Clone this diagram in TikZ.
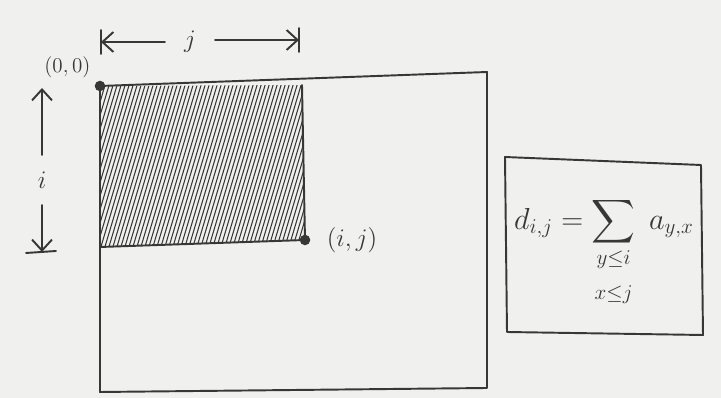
\documentclass[tikz,border=0pt]{standalone}
\usepackage{amsmath,amssymb,mathtools}
\usepackage{tikz}
\usetikzlibrary{arrows.meta,positioning,calc}
\usepackage{xcolor}
\definecolor{paper}{RGB}{240,240,239}
\definecolor{pencil}{RGB}{55,55,55}
\tikzset{
  sketch/.style={draw=pencil,line width=1.1pt,line cap=round,line join=round},
  hatch/.style={draw=pencil,line width=.6pt},
  corner/.style={circle,fill=pencil,inner sep=0pt,minimum size=6pt},
  dimarrow/.style={sketch,-{Straight Barb[length=2.2mm,width=4mm]}},
  tick/.style={sketch},
  lbl/.style={text=pencil,inner sep=1pt,font=\Large},
}
\begin{document}
\begin{tikzpicture}[x=0.02cm,y=-0.02cm]
  \useasboundingbox[fill=paper] (0,0) rectangle (721,398);
  % whole matrix
  \coordinate (tl) at (100,86);
  \coordinate (tr) at (487,72);
  \coordinate (br) at (487,388);
  \coordinate (bl) at (100,392);
  % prefix block
  \coordinate (sb) at (100,247);
  \coordinate (se) at (305,240);
  \coordinate (st) at (302,85);
  \begin{scope}
    \clip (tl) -- (st) -- (se) -- (sb) -- cycle;
    \foreach \x in {40,44,...,320}
      {\draw[hatch] (\x,250) -- (\x+50,82);}
  \end{scope}
  \draw[sketch] (tl) -- (tr) -- (br) -- (bl) -- cycle;
  \draw[sketch] (sb) -- (se) -- (st);
  \node[corner] (origin) at (tl) {};
  \node[corner] (cell) at (se) {};
  \node[lbl,font=\large,above left=1pt and 2pt of origin] (zero) {$(0,0)$};
  \node[lbl,right=8pt of cell] (ij) {$(i,j)$};
  % width j
  \coordinate (jl) at (101,42);
  \coordinate (jr) at (299,40);
  \coordinate (jls) at (165,42);
  \coordinate (jrs) at (215,40);
  \node[lbl] (jlab) at (190,42) {$j$};
  \draw[tick] (101,30) -- (101,54);
  \draw[tick] (299,28) -- (299,52);
  \draw[dimarrow] (jls) -- (jl);
  \draw[dimarrow] (jrs) -- (jr);
  % height i
  \coordinate (it) at (42,88);
  \coordinate (ib) at (42,252);
  \coordinate (its) at (42,155);
  \coordinate (ibs) at (42,205);
  \node[lbl] (ilab) at (42,180) {$i$};
  \draw[tick] (26,253) -- (56,251);
  \draw[dimarrow] (its) -- (it);
  \draw[dimarrow] (ibs) -- (ib);
  % definition box
  \coordinate (ftl) at (505,157);
  \coordinate (fbr) at (703,335);
  \draw[sketch] (ftl) -- (701,165) -- (fbr) -- (507,332) -- cycle;
  \node[lbl,font=\LARGE] (sum) at (604,252)
    {$d_{i,j}=\displaystyle\sum_{\mathclap{\substack{y\le i\\[8pt] x\le j}}}\; a_{y,x}$};
\end{tikzpicture}
\end{document}
